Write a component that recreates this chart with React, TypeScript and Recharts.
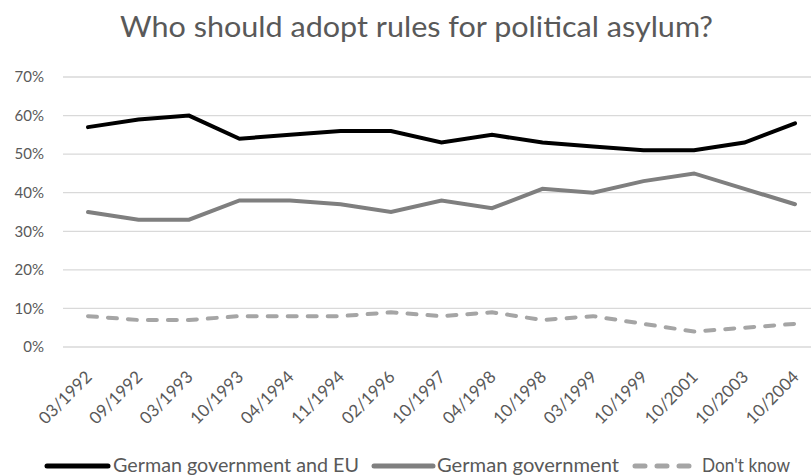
import React from 'react';
import { LineChart, Line, XAxis, YAxis, CartesianGrid } from 'recharts';

const categories = [
  '03/1992', '09/1992', '03/1993', '10/1993', '04/1994', '11/1994', '02/1996', '10/1997',
  '04/1998', '10/1998', '03/1999', '10/1999', '10/2001', '10/2003', '10/2004',
];
const govAndEu = [57, 59, 60, 54, 55, 56, 56, 53, 55, 53, 52, 51, 51, 53, 58];
const germanGov = [35, 33, 33, 38, 38, 37, 35, 38, 36, 41, 40, 43, 45, 41, 37];
const dontKnow = [8, 7, 7, 8, 8, 8, 9, 8, 9, 7, 8, 6, 4, 5, 6];
const yTicks = [0, 10, 20, 30, 40, 50, 60, 70];

const FONT = 'Lato, "Open Sans", sans-serif';
const TEXT = '#595959';

const data = categories.map((c, i) => ({
  period: c,
  govEu: govAndEu[i],
  gov: germanGov[i],
  dk: dontKnow[i],
}));

const XTick = ({ x, y, payload }: any) => (
  <g transform={`translate(${x + 5},${y + 23}) rotate(-45)`}>
    <text x={0} y={0} textAnchor="end" fill={TEXT} fontSize={17} fontFamily={FONT}>
      {payload.value}
    </text>
  </g>
);

// legend swatch + label placement (x0..x1 line, label start and width)
const legendItems = [
  { label: 'German government and EU', color: '#000000', dash: undefined, x0: 47, x1: 108, tx: 113, tw: 246 },
  { label: 'German government', color: '#7f7f7f', dash: undefined, x0: 374, x1: 433, tx: 437, tw: 182 },
  { label: "Don't know", color: '#a5a5a5', dash: '10 12', x0: 635, x1: 690, tx: 702, tw: 88 },
];

export default function App() {
  return (
    <div style={{ position: 'fixed', left: 0, top: 0, width: 811, height: 476, overflow: 'hidden', background: '#fff' }}>
      <div style={{ position: 'relative', width: 836, height: 476 }}>
        <LineChart width={836} height={476} data={data} margin={{ top: 77, right: 16, bottom: 49, left: 0 }}>
          <CartesianGrid vertical={false} stroke="#d9d9d9" strokeWidth={1.3} />
          <XAxis
            dataKey="period"
            axisLine={false}
            tickLine={false}
            interval={0}
            height={80}
            padding={{ left: 25, right: 25 }}
            tick={<XTick />}
          />
          <YAxis
            domain={[0, 70]}
            ticks={yTicks}
            width={63}
            axisLine={false}
            tickLine={false}
            tickMargin={13}
            tickFormatter={(v: number) => `${v}%`}
            tick={{ fill: TEXT, fontSize: 15, fontFamily: FONT }}
          />
          <Line type="linear" dataKey="dk" stroke="#a5a5a5" strokeWidth={4} strokeDasharray="9 11" strokeLinecap="round" dot={false} isAnimationActive={false} />
          <Line type="linear" dataKey="gov" stroke="#7f7f7f" strokeWidth={4} strokeLinecap="round" dot={false} isAnimationActive={false} />
          <Line type="linear" dataKey="govEu" stroke="#000000" strokeWidth={4} strokeLinecap="round" dot={false} isAnimationActive={false} />
        </LineChart>
        <svg width={836} height={476} style={{ position: 'absolute', left: 0, top: 0, pointerEvents: 'none' }}>
          <text x={120} y={37} fontFamily={FONT} fontSize={29} fill={TEXT} textLength={593} lengthAdjust="spacingAndGlyphs">
            Who should adopt rules for political asylum?
          </text>
          {legendItems.map((it) => (
            <g key={it.label}>
              <line x1={it.x0} y1={466} x2={it.x1} y2={466} stroke={it.color} strokeWidth={5} strokeLinecap="round" strokeDasharray={it.dash} />
              <text x={it.tx} y={472} fontFamily={FONT} fontSize={19.5} fill={TEXT} textLength={it.tw} lengthAdjust="spacingAndGlyphs">
                {it.label}
              </text>
            </g>
          ))}
        </svg>
      </div>
    </div>
  );
}
